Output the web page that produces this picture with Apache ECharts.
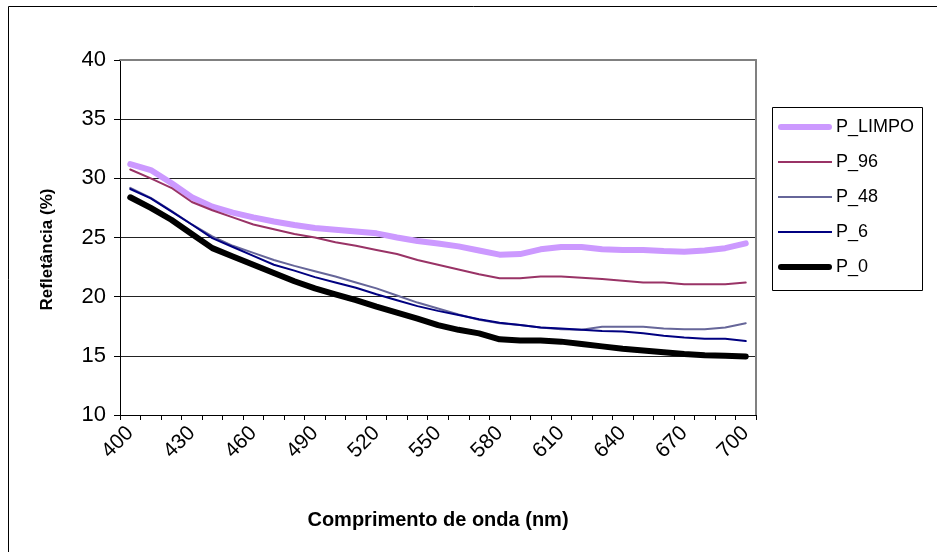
<!DOCTYPE html>
<html><head><meta charset="utf-8">
<script src="https://cdn.jsdelivr.net/npm/echarts@6/dist/echarts.min.js"></script>
<style>html,body{margin:0;padding:0;background:#fff}#c{width:937px;height:552px}</style>
</head><body><div id="c"></div>
<script>
const wavelengths = ['400','410','420','430','440','450','460','470','480','490','500','510','520','530','540','550','560','570','580','590','600','610','620','630','640','650','660','670','680','690','700'];
const pLimpo = [31.2,30.7,29.6,28.4,27.6,27.1,26.7,26.35,26.05,25.8,25.65,25.5,25.35,25.0,24.7,24.5,24.25,23.9,23.55,23.6,24.0,24.2,24.2,24.0,23.95,23.95,23.85,23.8,23.9,24.1,24.5];
const p96 = [30.75,30.0,29.2,28.0,27.3,26.7,26.1,25.7,25.3,25.0,24.6,24.3,23.95,23.6,23.1,22.7,22.3,21.9,21.55,21.55,21.7,21.7,21.6,21.5,21.35,21.2,21.2,21.05,21.05,21.05,21.2];
const p48 = [29.2,28.35,27.25,26.1,25.1,24.3,23.7,23.1,22.6,22.15,21.7,21.2,20.7,20.1,19.5,19.0,18.5,18.05,17.75,17.6,17.4,17.25,17.2,17.45,17.45,17.45,17.3,17.25,17.25,17.4,17.75];
const p6 = [29.1,28.3,27.2,26.1,24.95,24.2,23.45,22.7,22.2,21.65,21.2,20.75,20.2,19.7,19.2,18.8,18.45,18.1,17.8,17.6,17.4,17.3,17.2,17.1,17.05,16.9,16.7,16.55,16.45,16.45,16.25];
const p0 = [28.4,27.5,26.5,25.3,24.1,23.4,22.7,22.0,21.3,20.7,20.2,19.7,19.15,18.65,18.15,17.6,17.2,16.9,16.4,16.3,16.3,16.2,16.0,15.8,15.6,15.45,15.3,15.15,15.05,15.0,14.95];
const seriesNames = ['P_LIMPO','P_96','P_48','P_6','P_0'];
const yTicks = {min:10, max:40, interval:5};

const FONT = '"Liberation Sans", Arial, sans-serif';
const THICK = 'path://M0,0L0,0M54,14L54,14M3,4H51A3,3 0 0 1 51,10H3A3,3 0 0 1 3,4Z';
const THIN = 'path://M0,0L0,0M54,14L54,14M0,6H54V8H0Z';
const chart = echarts.init(document.getElementById('c'), null, {renderer:'canvas'});
function ser(name, data, color, width){
  return {name, type:'line', data, symbol:'none', xAxisIndex:0, yAxisIndex:0,
    lineStyle:{color, width, cap:'round', join:'round'}, itemStyle:{color}, z: 3};
}
chart.setOption({
  animation:false,
  backgroundColor:'#fff',
  grid:{left:120, right:181, top:60, bottom:137, containLabel:false},
  legend:{
    orient:'vertical', left:778, top:118, padding:0, itemWidth:54, itemHeight:14, itemGap:17,
    textStyle:{fontFamily:FONT, fontSize:18, color:'#000', padding:[0,0,0,-1]},
    data:[
      {name:seriesNames[0], icon:THICK},
      {name:seriesNames[1], icon:THIN},
      {name:seriesNames[2], icon:THIN},
      {name:seriesNames[3], icon:THIN},
      {name:seriesNames[4], icon:THICK}
    ]
  },
  xAxis:[{
    type:'category', data:wavelengths, boundaryGap:true,
    axisLine:{lineStyle:{color:'#000', width:1}},
    axisTick:{show:true, inside:false, length:5, alignWithLabel:false, interval:0, lineStyle:{color:'#000'}},
    axisLabel:{interval:2, rotate:45, fontFamily:FONT, fontSize:21, color:'#000', margin:15},
    splitLine:{show:false},
    name:'Comprimento de onda (nm)', nameLocation:'middle', nameGap:95,
    nameTextStyle:{fontFamily:FONT, fontSize:20, fontWeight:'bold', color:'#000'}
  },{
    type:'category', data:wavelengths, position:'top',
    axisLine:{lineStyle:{color:'#808080', width:2}}, axisTick:{show:false}, axisLabel:{show:false}
  }],
  yAxis:[{
    type:'value', min:yTicks.min, max:yTicks.max, interval:yTicks.interval,
    axisLine:{show:true, lineStyle:{color:'#000', width:1}},
    axisTick:{show:true, length:6, lineStyle:{color:'#000'}},
    axisLabel:{fontFamily:FONT, fontSize:22, color:'#000', margin:14},
    splitLine:{show:true, lineStyle:{color:'#222', width:1}},
    name:'Refletância (%)', nameLocation:'middle', nameGap:64, nameRotate:90,
    nameTextStyle:{fontFamily:FONT, fontSize:17, fontWeight:'bold', color:'#000', padding:[0,24,0,0]}
  },{
    type:'value', min:yTicks.min, max:yTicks.max, interval:yTicks.interval, position:'right',
    axisLine:{show:true, lineStyle:{color:'#808080', width:2}}, axisTick:{show:false}, axisLabel:{show:false}, splitLine:{show:false}
  }],
  graphic:[
    {type:'rect', shape:{x:8.5, y:6.5, width:1200, height:1200}, style:{fill:'none', stroke:'#000', lineWidth:1}, z:-1},
    {type:'rect', shape:{x:772.5, y:107.5, width:150, height:183}, style:{fill:'#fff', stroke:'#000', lineWidth:1}, z:0}
  ],
  series:[
    ser(seriesNames[0], pLimpo, '#CC99FF', 6),
    ser(seriesNames[1], p96, '#993366', 2),
    ser(seriesNames[2], p48, '#666699', 2),
    ser(seriesNames[3], p6, '#000080', 2),
    ser(seriesNames[4], p0, '#000000', 6)
  ]
});
</script></body></html>
